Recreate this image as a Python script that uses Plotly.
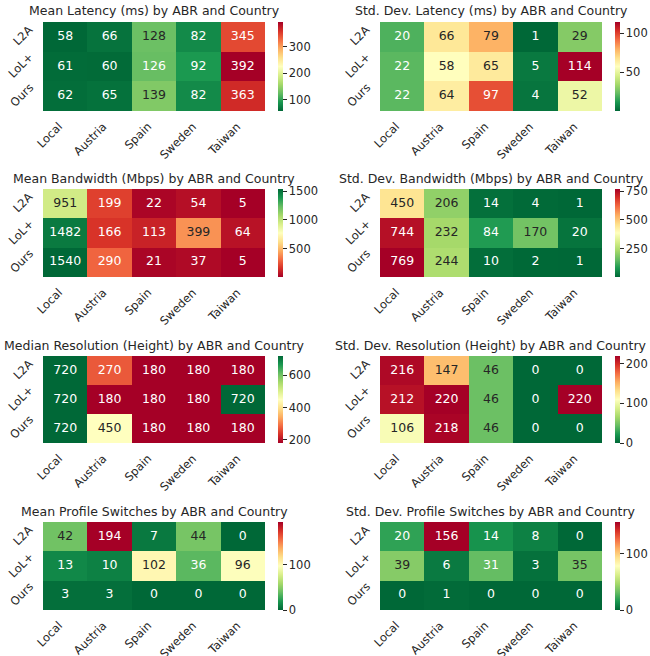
import plotly.graph_objects as go
from plotly.colors import sample_colorscale, diverging

countries = ["Local", "Austria", "Spain", "Sweden", "Taiwan"]
abrs = ["L2A", "LoL+", "Ours"]

mean_latency = [[58, 66, 128, 82, 345], [61, 60, 126, 92, 392], [62, 65, 139, 82, 363]]
std_latency = [[20, 66, 79, 1, 29], [22, 58, 65, 5, 114], [22, 64, 97, 4, 52]]
mean_bandwidth = [[951, 199, 22, 54, 5], [1482, 166, 113, 399, 64], [1540, 290, 21, 37, 5]]
std_bandwidth = [[450, 206, 14, 4, 1], [744, 232, 84, 170, 20], [769, 244, 10, 2, 1]]
median_resolution = [[720, 270, 180, 180, 180], [720, 180, 180, 180, 720], [720, 450, 180, 180, 180]]
std_resolution = [[216, 147, 46, 0, 0], [212, 220, 46, 0, 220], [106, 218, 46, 0, 0]]
mean_switches = [[42, 194, 7, 44, 0], [13, 10, 102, 36, 96], [3, 3, 0, 0, 0]]
std_switches = [[20, 156, 14, 8, 0], [39, 6, 31, 3, 35], [0, 1, 0, 0, 0]]

titles = [
    "Mean Latency (ms) by ABR and Country",
    "Std. Dev. Latency (ms) by ABR and Country",
    "Mean Bandwidth (Mbps) by ABR and Country",
    "Std. Dev. Bandwidth (Mbps) by ABR and Country",
    "Median Resolution (Height) by ABR and Country",
    "Std. Dev. Resolution (Height) by ABR and Country",
    "Mean Profile Switches by ABR and Country",
    "Std. Dev. Profile Switches by ABR and Country",
]
panels = [mean_latency, std_latency, mean_bandwidth, std_bandwidth,
          median_resolution, std_resolution, mean_switches, std_switches]
# True: green for low values (reversed RdYlGn)
green_low = [True, True, False, True, False, True, True, True]
cbar_ticks = [[100, 200, 300], [50, 100], [500, 1000, 1500], [250, 500, 750],
              [200, 400, 600], [0, 100, 200], [0, 100], [0, 100]]

W, H = 650, 656
cols = [(43, 265, 278), (380, 602, 615)]
rows = [(22, 111), (189, 277), (356, 443), (522, 610)]

RDYLGN = diverging.RdYlGn
RDYLGN_R = RDYLGN[::-1]
FONT = "DejaVu Sans"
DARK = "#262626"
TICK_SIZE = 11.5


def make_scale(colors):
    n = len(colors) - 1
    return [[i / n, c] for i, c in enumerate(colors)]


def parse_rgb(s):
    s = s.strip()
    if s.startswith("#"):
        return tuple(int(s[i:i + 2], 16) for i in (1, 3, 5))
    vals = s[s.index("(") + 1:s.index(")")].split(",")
    return tuple(float(v) for v in vals[:3])


def luminance(rgb):
    out = []
    for c in rgb:
        c = c / 255.0
        out.append(c / 12.92 if c <= 0.03928 else ((c + 0.055) / 1.055) ** 2.4)
    return 0.2126 * out[0] + 0.7152 * out[1] + 0.0722 * out[2]


fig = go.Figure()
layout = {}
annotations = []
tickfont = dict(family=FONT, size=TICK_SIZE, color=DARK)

for k, (z, title) in enumerate(zip(panels, titles)):
    r, c = divmod(k, 2)
    x0, x1, cbx = cols[c]
    y0, y1 = rows[r]
    idx = "" if k == 0 else str(k + 1)
    scale = make_scale(RDYLGN_R if green_low[k] else RDYLGN)
    flat = [v for row in z for v in row]
    zmin, zmax = min(flat), max(flat)

    fig.add_trace(go.Heatmap(
        z=z, x=countries, y=abrs, colorscale=scale, zmin=zmin, zmax=zmax,
        xaxis="x" + idx, yaxis="y" + idx, xgap=0, ygap=0,
        colorbar=dict(
            x=cbx / W, xanchor="left", xpad=0, ypad=0,
            y=1 - (y0 + y1) / 2 / H, yanchor="middle",
            len=(y1 - y0) / H, lenmode="fraction",
            thickness=5, thicknessmode="pixels", outlinewidth=0,
            ticks="outside", ticklen=4, tickwidth=1, tickcolor=DARK,
            tickvals=cbar_ticks[k], tickfont=tickfont,
        ),
        hoverinfo="skip",
    ))

    # cell value labels, dark on light cells and white on dark cells
    xs, ys, txt, tcol = [], [], [], []
    for i, a in enumerate(abrs):
        for j, cn in enumerate(countries):
            v = z[i][j]
            t = (v - zmin) / (zmax - zmin)
            rgb = parse_rgb(sample_colorscale(scale, [t])[0])
            xs.append(cn)
            ys.append(a)
            txt.append(str(v))
            tcol.append(DARK if luminance(rgb) > 0.408 else "white")
    fig.add_trace(go.Scatter(
        x=xs, y=ys, text=txt, mode="text", xaxis="x" + idx, yaxis="y" + idx,
        textfont=dict(family=FONT, size=12.5, color=tcol),
        textposition="middle center", showlegend=False, hoverinfo="skip",
    ))

    layout["xaxis" + idx] = dict(
        domain=[x0 / W, x1 / W], anchor="y" + idx, showticklabels=False,
        showgrid=False, zeroline=False, showline=False, ticks="",
        range=[-0.5, len(countries) - 0.5], autorange=False,
        categoryorder="array", categoryarray=countries,
    )
    layout["yaxis" + idx] = dict(
        domain=[1 - y1 / H, 1 - y0 / H], anchor="x" + idx, showticklabels=False,
        showgrid=False, zeroline=False, showline=False, ticks="",
        range=[len(abrs) - 0.5, -0.5], autorange=False,
        categoryorder="array", categoryarray=abrs,
    )

    # rotated category labels
    for cn in countries:
        annotations.append(dict(
            text=cn, xref="x" + idx, x=cn, yref="y" + idx + " domain", y=0,
            xanchor="right", yanchor="top", xshift=3, yshift=-6,
            textangle=-45, showarrow=False, font=tickfont,
        ))
    for a in abrs:
        annotations.append(dict(
            text=a, xref="x" + idx + " domain", x=0, yref="y" + idx, y=a,
            xanchor="right", yanchor="middle", xshift=-4, yshift=1.5,
            textangle=-45, showarrow=False, font=tickfont,
        ))

    annotations.append(dict(
        text=title, xref="paper", yref="paper",
        x=(x0 + x1) / 2 / W, y=1 - (y0 - 11) / H,
        xanchor="center", yanchor="middle", showarrow=False,
        font=dict(family=FONT, size=12.5, color=DARK),
    ))

fig.update_layout(
    width=W, height=H, margin=dict(l=0, r=0, t=0, b=0),
    paper_bgcolor="white", plot_bgcolor="white", showlegend=False,
    annotations=annotations, **layout,
)

fig.write_html("out.html")
